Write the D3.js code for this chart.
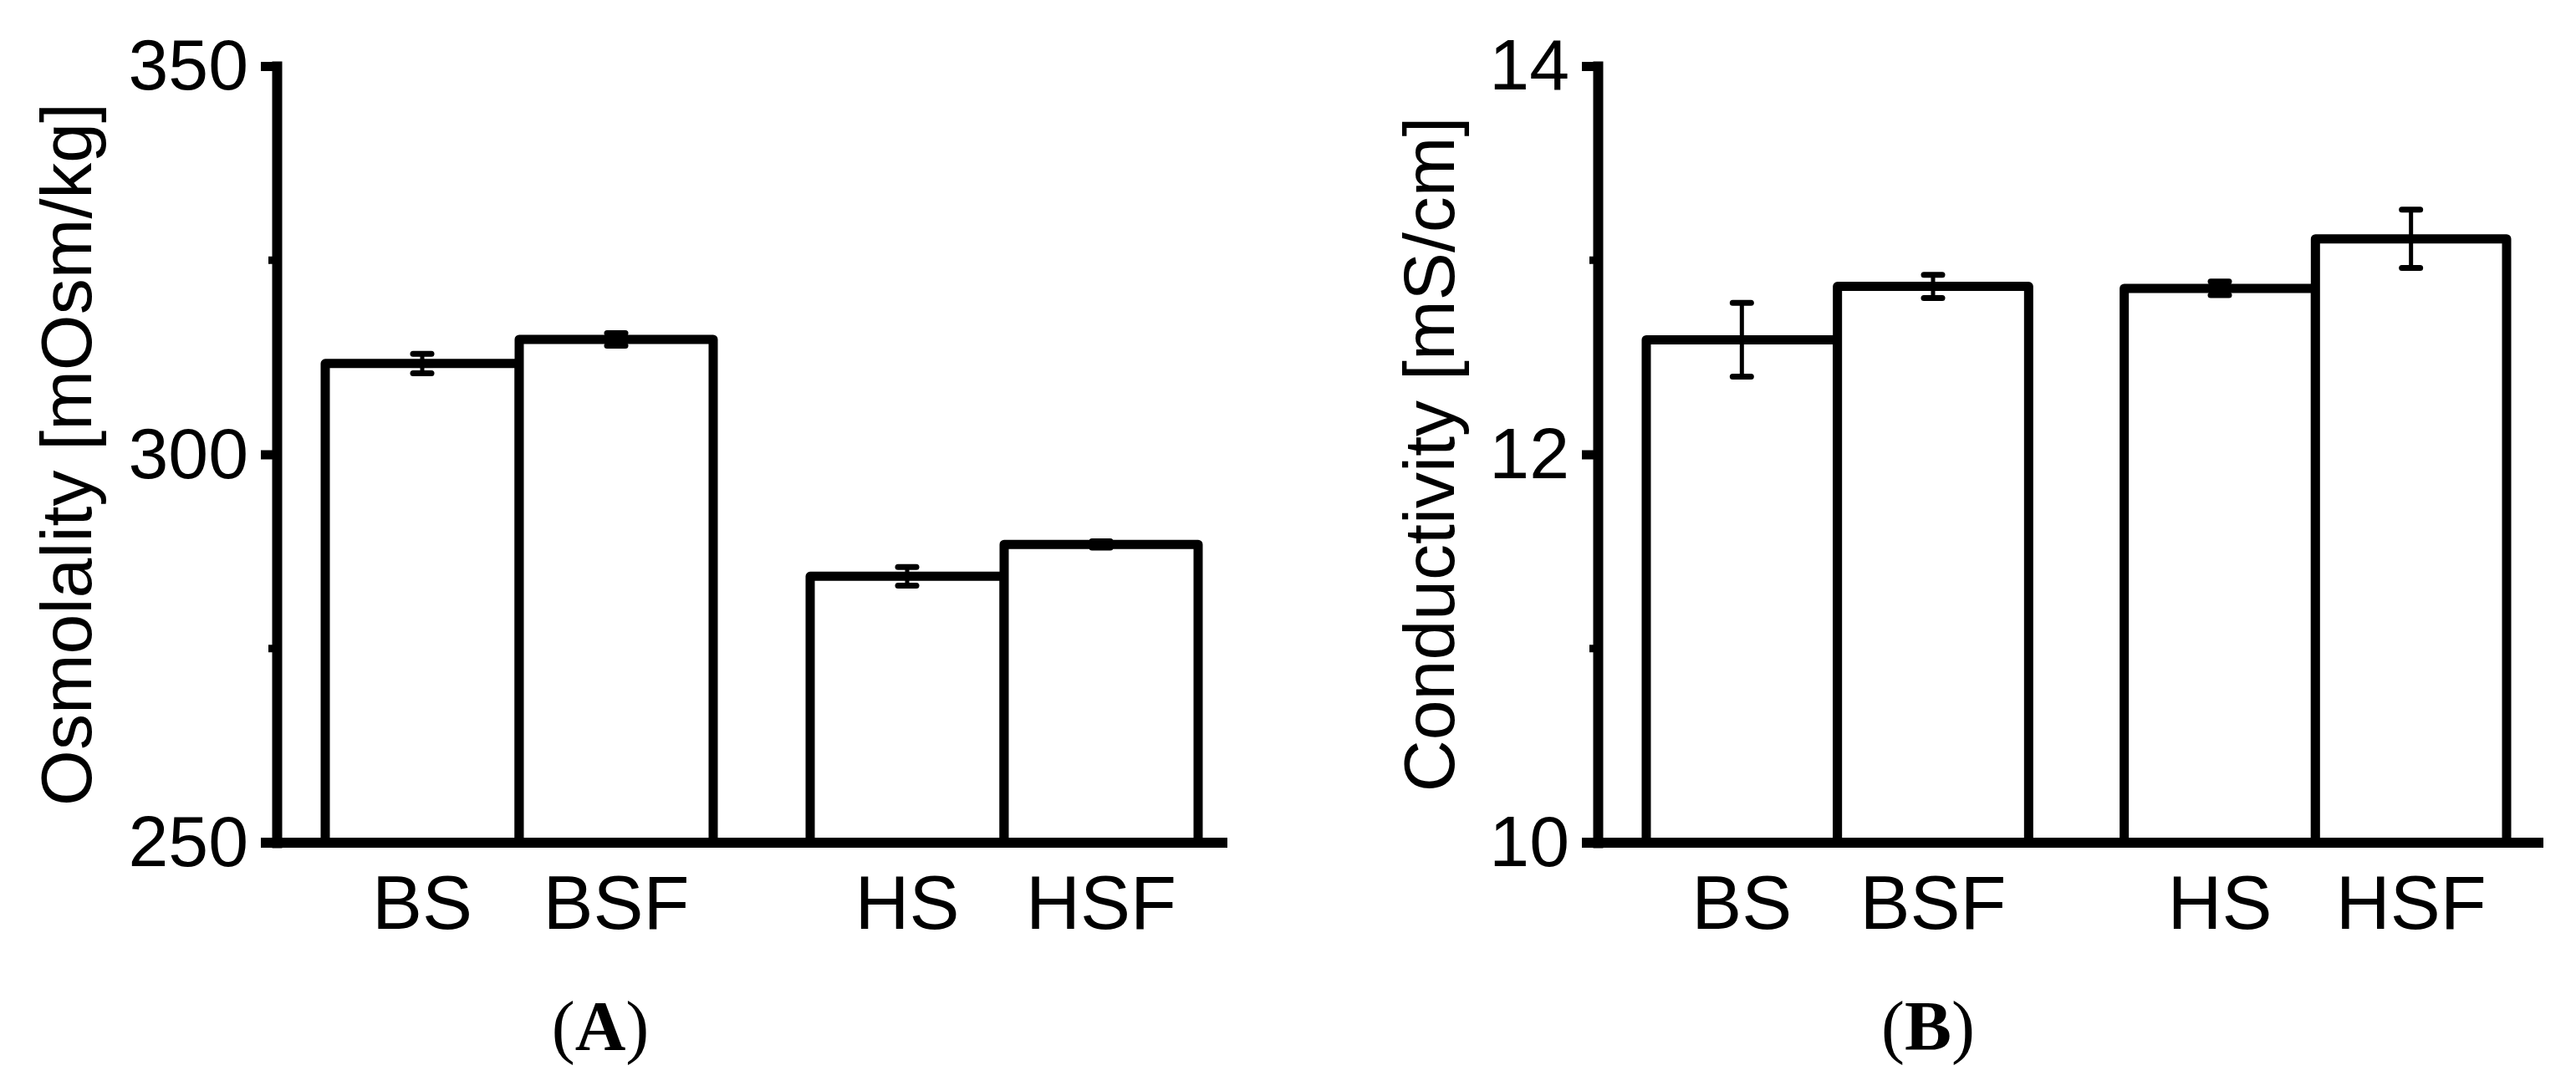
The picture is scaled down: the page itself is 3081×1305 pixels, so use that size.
<!DOCTYPE html>
<html>
<head>
<meta charset="utf-8">
<script src="https://cdn.jsdelivr.net/npm/d3@7"></script>
<style>
  html, body { margin: 0; padding: 0; background: #fff; }
  svg { display: block; }
</style>
</head>
<body>
<svg id="chart" width="3081" height="1305"></svg>
<script>
// ---- data ----
const categories = ["BS", "BSF", "HS", "HSF"];
const osmolality = [311.7, 314.8, 284.3, 288.4];
const osmolalityErr = [1.25, 0.8, 1.2, 0.4];
const conductivity = [12.59, 12.865, 12.855, 13.11];
const conductivityErr = [0.19, 0.06, 0.035, 0.15];
const osmTicks = [250, 300, 350];
const osmMinorTicks = [275, 325];
const condTicks = [10, 12, 14];
const condMinorTicks = [11, 13];

const svg = d3.select("#chart");
const FONT = "'Liberation Sans', Arial, Helvetica, sans-serif";
const SERIF = "'Liberation Serif', 'Times New Roman', serif";

function panel(opts) {
  const g = svg.append("g");
  const y = d3.scaleLinear().domain(opts.domain).range([1008, 79]);
  const groupNames = Array.from(new Set(categories.map(c => c[0])));
  const xo = d3.scaleBand().domain(groupNames).range([opts.barL, opts.barR])
    .paddingInner(0.2).paddingOuter(0);
  const xi = d3.scaleBand().domain(["S", "SF"]).range([0, xo.bandwidth()]).padding(0);
  const xL = c => xo(c[0]) + xi(c.slice(1));
  const bw = xi.bandwidth();

  const data = categories.map((c, i) => ({c, v: opts.values[i], e: opts.errors[i]}));

  // bars
  g.selectAll("rect.bar").data(data).join("rect")
    .attr("class", "bar")
    .attr("x", d => xL(d.c))
    .attr("y", d => y(d.v))
    .attr("width", bw)
    .attr("height", d => y(opts.domain[0]) - y(d.v))
    .attr("fill", "#fff")
    .attr("stroke", "#000")
    .attr("stroke-width", 11)
    .attr("stroke-linejoin", "round");

  // error bars
  const eg = g.selectAll("g.err").data(data).join("g").attr("class", "err");
  eg.append("line")
    .attr("x1", d => xL(d.c) + bw / 2).attr("x2", d => xL(d.c) + bw / 2)
    .attr("y1", d => y(d.v + d.e)).attr("y2", d => y(d.v - d.e))
    .attr("stroke", "#000").attr("stroke-width", 5);
  [1, -1].forEach(s => {
    eg.append("line")
      .attr("x1", d => xL(d.c) + bw / 2 - 11).attr("x2", d => xL(d.c) + bw / 2 + 11)
      .attr("y1", d => y(d.v + s * d.e)).attr("y2", d => y(d.v + s * d.e))
      .attr("stroke", "#000").attr("stroke-width", 7).attr("stroke-linecap", "round");
  });

  // y axis
  const ax = g.append("g").attr("transform", `translate(${opts.axisX},0)`)
    .call(d3.axisLeft(y).tickValues(opts.ticks).tickSize(19).tickSizeOuter(0)
      .tickPadding(15).tickFormat(d3.format("d")));
  ax.select(".domain").attr("stroke-width", 12).attr("stroke-linecap", "square");
  ax.selectAll(".tick line").attr("stroke-width", 11);
  ax.selectAll(".tick text").attr("font-family", FONT).attr("font-size", 86)
    .attr("fill", "#000");
  // minor ticks
  ax.selectAll("line.minor").data(opts.minor).join("line")
    .attr("class", "minor")
    .attr("x1", -10).attr("x2", 0)
    .attr("y1", d => y(d)).attr("y2", d => y(d))
    .attr("stroke", "#000").attr("stroke-width", 9);

  // x axis line
  g.append("line")
    .attr("x1", opts.axisX - 19).attr("x2", opts.axisEnd)
    .attr("y1", y(opts.domain[0])).attr("y2", y(opts.domain[0]))
    .attr("stroke", "#000").attr("stroke-width", 12);

  // x labels
  g.selectAll("text.xl").data(data).join("text")
    .attr("class", "xl")
    .attr("x", d => xL(d.c) + bw / 2)
    .attr("y", 1111)
    .attr("text-anchor", "middle")
    .attr("font-family", FONT).attr("font-size", 90)
    .text(d => d.c);

  // y title
  g.append("text")
    .attr("transform", `translate(${opts.titleX},${(y.range()[0] + y.range()[1]) / 2}) rotate(-90)`)
    .attr("text-anchor", "middle")
    .attr("font-family", FONT).attr("font-size", 86)
    .text(opts.title);

  // panel label
  const pl = g.append("text")
    .attr("x", opts.labelX).attr("y", 1256)
    .attr("text-anchor", "middle")
    .attr("font-family", SERIF).attr("font-size", 84);
  pl.append("tspan").text("(");
  pl.append("tspan").attr("font-weight", "bold").text(opts.label);
  pl.append("tspan").text(")");
}

panel({
  domain: [250, 350], ticks: osmTicks, minor: osmMinorTicks,
  values: osmolality, errors: osmolalityErr,
  axisX: 331, axisEnd: 1468, barL: 389, barR: 1433,
  title: "Osmolality [mOsm/kg]", titleX: 109,
  label: "A", labelX: 718
});
panel({
  domain: [10, 14], ticks: condTicks, minor: condMinorTicks,
  values: conductivity, errors: conductivityErr,
  axisX: 1911, axisEnd: 3042, barL: 1969, barR: 2998,
  title: "Conductivity [mS/cm]", titleX: 1739,
  label: "B", labelX: 2306
});
</script>
</body>
</html>
